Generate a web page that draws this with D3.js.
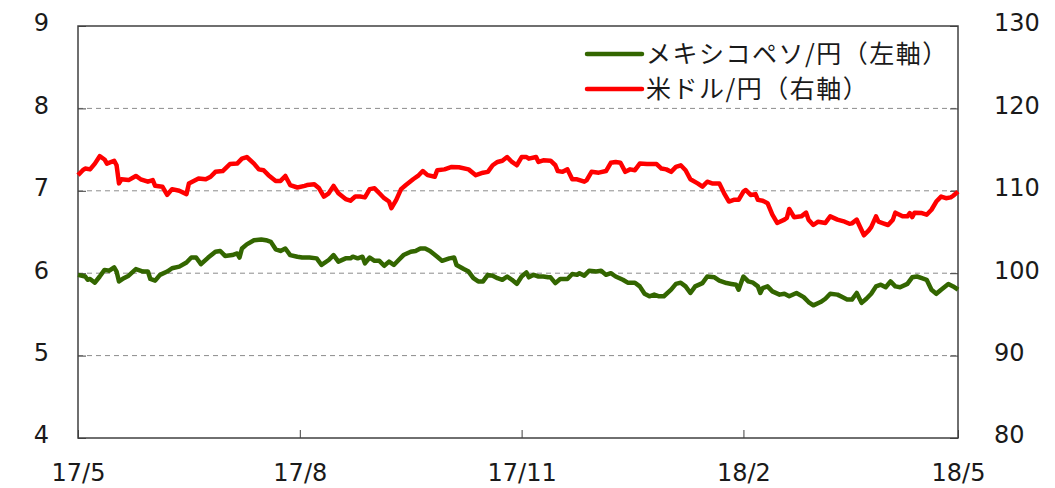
<!DOCTYPE html>
<html>
<head>
<meta charset="utf-8">
<script src="https://cdn.jsdelivr.net/npm/d3@7"></script>
<style>
  body { margin: 0; background: #fff; }
  svg { display: block; }
</style>
</head>
<body>
<div id="chart"></div>
<script>
// days counted from 2017-05-01
const baseDate = new Date(2017, 4, 1);

const usdDays = [0, 2, 3, 5, 7, 9, 11, 12, 15, 16, 17, 18, 21, 24, 26, 29, 31, 32, 35, 37, 39, 42, 45, 46, 48, 50, 53, 55, 57, 60, 63, 66, 68, 70, 73, 75, 77, 79, 82, 84, 86, 88, 91, 94, 95, 98, 100, 102, 104, 106, 108, 111, 113, 115, 117, 119, 121, 123, 125, 127, 129, 130, 132, 134, 136, 139, 141, 143, 145, 148, 149, 152, 155, 158, 162, 165, 168, 170, 172, 174, 176, 178, 180, 182, 184, 186, 187, 190, 191, 193, 196, 198, 199, 201, 203, 205, 207, 210, 211, 213, 216, 219, 221, 223, 225, 227, 229, 231, 233, 236, 240, 242, 244, 246, 248, 250, 252, 254, 257, 259, 261, 263, 266, 268, 270, 272, 274, 276, 277, 279, 281, 282, 284, 286, 288, 290, 293, 294, 295, 297, 300, 302, 303, 305, 307, 310, 312, 315, 318, 320, 321, 323, 324, 326, 328, 329, 331, 332, 334, 336, 338, 339, 342, 344, 345, 346, 347, 350, 352, 354, 356, 358, 360, 362, 363, 365];
const usdValues = [111.9, 112.5, 112.7, 112.6, 113.3, 114.2, 113.8, 113.3, 113.65, 113.1, 110.9, 111.4, 111.3, 111.8, 111.4, 111.1, 111.3, 110.6, 110.5, 109.5, 110.2, 110.0, 109.6, 110.9, 111.2, 111.5, 111.4, 111.7, 112.3, 112.4, 113.25, 113.3, 113.9, 114.1, 113.3, 112.6, 112.5, 111.9, 111.2, 111.2, 111.8, 110.7, 110.4, 110.6, 110.7, 110.8, 110.3, 109.3, 109.7, 110.6, 109.7, 109.0, 108.8, 109.3, 109.3, 109.2, 110.2, 110.3, 109.7, 109.1, 108.7, 107.9, 108.9, 110.2, 110.7, 111.4, 111.8, 112.4, 111.9, 111.7, 112.5, 112.6, 112.9, 112.85, 112.6, 111.9, 112.2, 112.3, 113.1, 113.5, 113.65, 114.1, 113.5, 113.1, 114.1, 114.1, 113.9, 114.1, 113.5, 113.7, 113.65, 113.1, 112.4, 112.3, 112.6, 111.4, 111.4, 111.1, 111.3, 112.3, 112.2, 112.4, 113.4, 113.5, 113.4, 112.3, 112.6, 112.5, 113.3, 113.25, 113.25, 112.7, 112.6, 112.3, 112.9, 113.1, 112.5, 111.4, 110.9, 110.5, 111.1, 110.9, 110.9, 109.7, 108.7, 108.9, 108.9, 109.9, 110.1, 109.5, 109.6, 108.9, 108.8, 108.5, 107.1, 106.1, 106.5, 106.7, 107.8, 106.8, 106.9, 107.35, 106.5, 105.85, 106.25, 106.1, 106.9, 106.5, 106.25, 106.0, 106.05, 106.5, 105.85, 104.6, 105.2, 105.6, 106.9, 106.25, 106.05, 105.85, 106.5, 107.35, 106.9, 106.9, 107.3, 106.8, 107.35, 107.3, 107.1, 107.7, 108.7, 109.3, 109.1, 109.2, 109.4, 109.9];

const mxnDays = [0, 3, 4, 5, 7, 9, 11, 13, 15, 16, 17, 19, 21, 24, 27, 29, 30, 32, 34, 37, 39, 42, 45, 47, 49, 51, 54, 57, 59, 61, 64, 66, 67, 68, 70, 73, 76, 78, 80, 82, 84, 86, 88, 91, 93, 96, 99, 101, 104, 106, 108, 111, 113, 114, 116, 118, 119, 121, 123, 125, 127, 129, 131, 133, 135, 138, 140, 142, 144, 146, 149, 151, 154, 156, 157, 160, 162, 164, 166, 168, 170, 172, 174, 176, 178, 180, 182, 184, 186, 187, 189, 191, 193, 195, 196, 198, 200, 203, 205, 207, 208, 210, 212, 215, 217, 219, 221, 223, 226, 228, 231, 233, 235, 237, 239, 241, 243, 246, 248, 250, 252, 254, 256, 259, 261, 264, 266, 269, 271, 273, 274, 276, 278, 280, 282, 283, 284, 286, 288, 291, 293, 295, 298, 301, 303, 305, 308, 310, 312, 315, 317, 319, 321, 323, 325, 327, 329, 331, 333, 335, 337, 339, 341, 344, 346, 348, 350, 352, 354, 356, 358, 361, 363, 365];
const mxnValues = [5.98, 5.96, 5.92, 5.93, 5.885, 5.96, 6.04, 6.03, 6.07, 6.02, 5.90, 5.94, 5.97, 6.05, 6.02, 6.02, 5.93, 5.91, 5.98, 6.02, 6.06, 6.08, 6.13, 6.19, 6.19, 6.11, 6.19, 6.26, 6.27, 6.21, 6.22, 6.24, 6.19, 6.30, 6.35, 6.40, 6.41, 6.40, 6.38, 6.29, 6.27, 6.30, 6.22, 6.20, 6.19, 6.19, 6.18, 6.10, 6.16, 6.22, 6.14, 6.18, 6.18, 6.20, 6.18, 6.20, 6.12, 6.19, 6.15, 6.15, 6.09, 6.14, 6.10, 6.16, 6.22, 6.26, 6.27, 6.30, 6.30, 6.27, 6.20, 6.15, 6.18, 6.19, 6.10, 6.05, 6.02, 5.94, 5.90, 5.90, 5.98, 5.97, 5.94, 5.92, 5.96, 5.92, 5.87, 5.96, 6.01, 5.95, 5.98, 5.96, 5.96, 5.95, 5.95, 5.88, 5.93, 5.93, 5.99, 5.98, 6.00, 5.97, 6.03, 6.02, 6.03, 5.98, 6.00, 5.96, 5.92, 5.885, 5.885, 5.84, 5.75, 5.72, 5.74, 5.72, 5.72, 5.80, 5.87, 5.885, 5.84, 5.76, 5.84, 5.88, 5.96, 5.95, 5.91, 5.88, 5.87, 5.86, 5.80, 5.96, 5.90, 5.885, 5.84, 5.76, 5.82, 5.84, 5.78, 5.74, 5.75, 5.72, 5.76, 5.71, 5.65, 5.61, 5.65, 5.69, 5.75, 5.74, 5.71, 5.68, 5.68, 5.76, 5.64, 5.69, 5.75, 5.84, 5.86, 5.83, 5.90, 5.84, 5.83, 5.87, 5.95, 5.96, 5.94, 5.92, 5.80, 5.75, 5.80, 5.87, 5.84, 5.80];

const xTickDates = ["2017-05-01", "2017-08-01", "2017-11-01", "2018-02-01", "2018-05-01"];
const xTickLabels = ["17/5", "17/8", "17/11", "18/2", "18/5"];
const leftTicks = [4, 5, 6, 7, 8, 9];
const rightTicks = [80, 90, 100, 110, 120, 130];
const seriesNames = ["メキシコペソ/円（左軸）", "米ドル/円（右軸）"];
const seriesColors = ["#336600", "#ff0000"];

const width = 1055, height = 488;
const margin = { top: 26, right: 97, bottom: 50, left: 78 };
const innerW = width - margin.left - margin.right;
const innerH = height - margin.top - margin.bottom;

const svg = d3.select("#chart").append("svg")
    .attr("width", width)
    .attr("height", height);

const g = svg.append("g")
    .attr("transform", `translate(${margin.left},${margin.top})`);

const parse = d3.timeParse("%Y-%m-%d");
const x = d3.scaleTime()
    .domain([parse(xTickDates[0]), parse(xTickDates[xTickDates.length - 1])])
    .range([0, innerW]);
const yL = d3.scaleLinear().domain([4, 9]).range([innerH, 0]);
const yR = d3.scaleLinear().domain([80, 130]).range([innerH, 0]);

const toDate = d => new Date(baseDate.getFullYear(), baseDate.getMonth(), baseDate.getDate() + d);

// dashed gridlines
g.append("g")
    .selectAll("line")
    .data(leftTicks.filter(t => t > 4 && t < 9))
    .enter()
    .append("line")
    .attr("x1", 0)
    .attr("x2", innerW)
    .attr("y1", d => yL(d))
    .attr("y2", d => yL(d))
    .style("stroke", "#8c8c8c")
    .style("stroke-width", "1px")
    .style("stroke-dasharray", "5,4");

const font = "'DejaVu Sans', Verdana, sans-serif";

// left axis
const leftAxis = g.append("g")
    .call(d3.axisLeft(yL).tickValues(leftTicks).tickSize(-8).tickPadding(29).tickFormat(d3.format("d")));
leftAxis.select(".domain").remove();
leftAxis.selectAll("text")
    .style("font-family", font)
    .style("font-size", "24px")
    .attr("dy", "0.2em")
    .style("fill", "#1a1a1a");

// right axis
const rightAxis = g.append("g")
    .attr("transform", `translate(${innerW},0)`)
    .call(d3.axisRight(yR).tickValues(rightTicks).tickSize(-8).tickPadding(36).tickFormat(d3.format("d")));
rightAxis.select(".domain").remove();
rightAxis.selectAll("text")
    .style("font-family", font)
    .style("font-size", "24px")
    .attr("dy", "0.2em")
    .style("fill", "#1a1a1a");

// bottom axis
const bottomAxis = g.append("g")
    .attr("transform", `translate(0,${innerH})`)
    .call(d3.axisBottom(x).tickValues(xTickDates.map(parse)).tickSize(-8).tickPadding(26)
        .tickFormat((d, i) => xTickLabels[i]));
bottomAxis.select(".domain").remove();
bottomAxis.selectAll("text")
    .style("font-family", font)
    .style("font-size", "24px")
    .style("fill", "#1a1a1a");

g.selectAll(".tick line").style("stroke", "#404040");

// frame
g.append("rect")
    .attr("x", 0)
    .attr("y", 0)
    .attr("width", innerW)
    .attr("height", innerH)
    .style("fill", "none")
    .style("stroke", "#404040")
    .style("stroke-width", "1.5px");

// lines
const lineL = d3.line().x(d => x(toDate(d[0]))).y(d => yL(d[1]));
const lineR = d3.line().x(d => x(toDate(d[0]))).y(d => yR(d[1]));

g.append("path")
    .datum(usdDays.map((d, i) => [d, usdValues[i]]))
    .attr("d", lineR)
    .style("fill", "none")
    .style("stroke", seriesColors[1])
    .style("stroke-width", "4.5px")
    .style("stroke-linejoin", "round");

g.append("path")
    .datum(mxnDays.map((d, i) => [d, mxnValues[i]]))
    .attr("d", lineL)
    .style("fill", "none")
    .style("stroke", seriesColors[0])
    .style("stroke-width", "4.5px")
    .style("stroke-linejoin", "round");

// legend
const legend = svg.append("g")
    .attr("transform", "translate(587,54)");

const item = legend.selectAll(".item")
    .data(seriesNames)
    .enter()
    .append("g")
    .attr("class", "item")
    .attr("transform", (d, i) => `translate(0,${i * 35})`);

item.append("line")
    .attr("x1", 0)
    .attr("x2", 55)
    .style("stroke", (d, i) => seriesColors[i])
    .style("stroke-width", "4.5px")
    .style("stroke-linecap", "round");

item.append("text")
    .attr("x", 59)
    .attr("dy", "0.35em")
    .style("font-family", "'Noto Sans CJK JP', sans-serif")
    .style("font-size", "25px")
    .style("letter-spacing", "1.5px")
    .style("fill", "#1a1a1a")
    .text(d => d);
</script>
</body>
</html>
